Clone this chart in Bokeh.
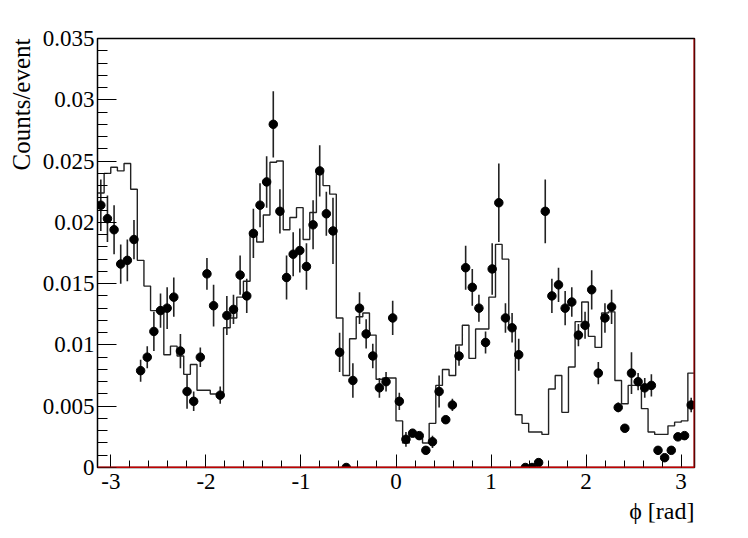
import numpy as np
from bokeh.plotting import figure
from bokeh.models import Range1d, FixedTicker, Title, Span
from bokeh.embed import file_html
from bokeh.resources import INLINE

# ---- data (90 bins over [-pi, pi]) ----
n_bins = 90
data_counts = [
    0.0214, 0.0203, 0.0194, 0.0166, 0.0169, 0.0186, 0.0079, 0.0090, 0.0111, 0.0128,
    0.0130, 0.0139, 0.0095, 0.0062, 0.0054, 0.0090, 0.0158, 0.0132, 0.0059, 0.0124,
    0.0129, 0.0157, 0.0140, 0.0191, 0.0214, 0.0233, 0.0280, 0.0209, 0.0155, 0.0174,
    0.0177, 0.0164, 0.0198, 0.0242, 0.0207, 0.0193, 0.0094, 0.0000, 0.0071, 0.0130,
    0.0109, 0.0091, 0.0065, 0.0070, 0.0122, 0.0054, 0.0023, 0.0028, 0.0026, 0.0014,
    0.0021, 0.0062, 0.0039, 0.0051, 0.0091, 0.0163, 0.0147, 0.0130, 0.0102, 0.0162,
    0.0216, 0.0122, 0.0114, 0.0092, 0.0000, 0.0000, 0.0004, 0.0209, 0.0140, 0.0149,
    0.0130, 0.0135, 0.0108, 0.0116, 0.0145, 0.0077, 0.0122, 0.0131, 0.0049, 0.0032,
    0.0077, 0.0070, 0.0065, 0.0067, 0.0014, 0.0008, 0.0014, 0.0025, 0.0026, 0.0051,
]
data_errors = [
    0.0021, 0.0019, 0.0020, 0.0016, 0.0017, 0.0016, 0.0009, 0.0009, 0.0016, 0.0014,
    0.0017, 0.0016, 0.0014, 0.0014, 0.0008, 0.0008, 0.0013, 0.0017, 0.0007, 0.0016,
    0.0012, 0.0016, 0.0014, 0.0020, 0.0018, 0.0021, 0.0027, 0.0018, 0.0018, 0.0018,
    0.0018, 0.0019, 0.0020, 0.0021, 0.0018, 0.0027, 0.0016, 0.0000, 0.0014, 0.0013,
    0.0012, 0.0010, 0.0008, 0.0008, 0.0014, 0.0007, 0.0006, 0.0003, 0.0003, 0.0002,
    0.0005, 0.0013, 0.0002, 0.0005, 0.0008, 0.0018, 0.0015, 0.0011, 0.0009, 0.0021,
    0.0032, 0.0012, 0.0012, 0.0013, 0.0000, 0.0000, 0.0000, 0.0026, 0.0014, 0.0014,
    0.0014, 0.0012, 0.0009, 0.0011, 0.0016, 0.0009, 0.0012, 0.0014, 0.0004, 0.0000,
    0.0017, 0.0007, 0.0008, 0.0009, 0.0000, 0.0000, 0.0000, 0.0002, 0.0002, 0.0006,
]
mc_hist = [
    0.0224, 0.0240, 0.0245, 0.0242, 0.0248, 0.0227, 0.0169, 0.0148, 0.0128, 0.0128,
    0.0092, 0.0099, 0.0091, 0.0076, 0.0084, 0.0063, 0.0063, 0.0060, 0.0058, 0.0114,
    0.0122, 0.0139, 0.0152, 0.0192, 0.0184, 0.0206, 0.0249, 0.0250, 0.0194, 0.0204,
    0.0212, 0.0186, 0.0208, 0.0242, 0.0230, 0.0223, 0.0122, 0.0075, 0.0105, 0.0123,
    0.0126, 0.0108, 0.0072, 0.0073, 0.0073, 0.0038, 0.0020, 0.0028, 0.0027, 0.0020,
    0.0036, 0.0067, 0.0080, 0.0075, 0.0100, 0.0116, 0.0089, 0.0113, 0.0113, 0.0139,
    0.0182, 0.0170, 0.0114, 0.0043, 0.0036, 0.0029, 0.0029, 0.0027, 0.0064, 0.0075,
    0.0045, 0.0082, 0.0119, 0.0135, 0.0107, 0.0098, 0.0126, 0.0127, 0.0071, 0.0052,
    0.0067, 0.0067, 0.0048, 0.0029, 0.0027, 0.0027, 0.0034, 0.0037, 0.0038, 0.0077,
]
x_tick_values = [-3, -2, -1, 0, 1, 2, 3]
x_tick_labels = ["-3", "-2", "-1", "0", "1", "2", "3"]
y_tick_values = [0, 0.005, 0.01, 0.015, 0.02, 0.025, 0.03, 0.035]
y_tick_labels = ["0", "0.005", "0.01", "0.015", "0.02", "0.025", "0.03", "0.035"]

edges = np.linspace(-np.pi, np.pi, n_bins + 1)
centers = 0.5 * (edges[:-1] + edges[1:])
vals = np.array(data_counts)
errs = np.array(data_errors)

FONT = "Liberation Serif"
RED = "#c00000"

p = figure(width=740, height=537, output_backend="svg", toolbar_location=None,
           x_range=Range1d(-np.pi, np.pi), y_range=Range1d(0, 0.035),
           min_border_left=96, min_border_right=46, min_border_top=38,
           min_border_bottom=70)
p.title.visible = False
p.grid.visible = False
p.background_fill_color = "white"
p.border_fill_color = "white"
p.outline_line_color = "black"
p.outline_line_width = 1.5

# MC histogram (step)
p.step(x=list(edges), y=mc_hist + [mc_hist[-1]], mode="after",
       line_color="#222222", line_width=1.4)

# data error bars and points
mask = errs > 0
p.segment(x0=centers[mask], y0=(vals - errs)[mask], x1=centers[mask], y1=(vals + errs)[mask],
          line_color="#222222", line_width=1.6)
p.scatter(x=centers, y=vals, size=8.5, color="black")

# red right/bottom frame lines
p.add_layout(Span(location=0, dimension="width", line_color=RED, line_width=2))
p.add_layout(Span(location=np.pi, dimension="height", line_color=RED, line_width=2))

# axes
for ax in (p.xaxis[0], p.yaxis[0]):
    ax.major_label_text_font = FONT
    ax.major_label_text_font_size = "23px"
    ax.major_label_text_color = "black"
    ax.axis_line_color = "black"
    ax.major_tick_line_color = "black"
    ax.minor_tick_line_color = "black"
    ax.major_tick_out = 0
    ax.minor_tick_out = 0

p.xaxis.ticker = FixedTicker(ticks=x_tick_values,
                             minor_ticks=[round(v, 2) for v in np.arange(-3.0, 3.01, 0.2)])
p.xaxis.major_label_overrides = dict(zip(x_tick_values, x_tick_labels))
p.xaxis.major_tick_in = 13
p.xaxis.minor_tick_in = 7
p.xaxis.major_label_standoff = 6
p.xaxis.axis_line_color = RED

p.yaxis.ticker = FixedTicker(ticks=y_tick_values,
                             minor_ticks=[round(v, 4) for v in np.arange(0, 0.0351, 0.001)])
p.yaxis.major_label_overrides = dict(zip(y_tick_values, y_tick_labels))
p.yaxis.major_tick_in = 19
p.yaxis.minor_tick_in = 10
p.yaxis.major_label_standoff = 3

p.add_layout(Title(text="\u03d5 [rad]", align="right", text_font=FONT,
                   text_font_size="24px", text_font_style="normal",
                   text_color="black", standoff=8), "below")
p.add_layout(Title(text="Counts/event", align="right", text_font=FONT,
                   text_font_size="25px", text_font_style="normal",
                   text_color="black", standoff=10), "left")

open("out.html", "w").write(file_html(p, INLINE))
